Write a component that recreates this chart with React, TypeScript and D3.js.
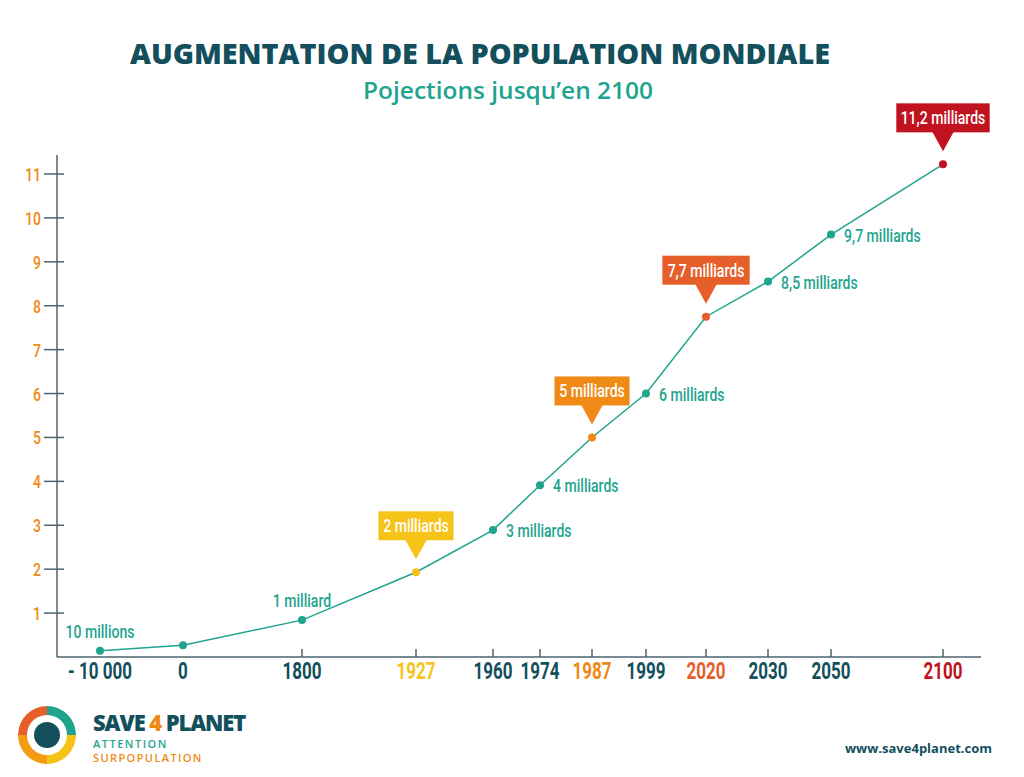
import * as d3 from "d3";
import type { ReactNode } from "react";

// data
const YEARS = ["- 10 000", "0", "1800", "1927", "1960", "1974", "1987", "1999", "2020", "2030", "2050", "2100"];
const POP = [0.14, 0.27, 0.84, 1.93, 2.89, 3.91, 5.0, 6.0, 7.75, 8.55, 9.62, 11.22];
const LABELS = ["10 millions", "", "1 milliard", "2 milliards", "3 milliards", "4 milliards", "5 milliards", "6 milliards", "7,7 milliards", "8,5 milliards", "9,7 milliards", "11,2 milliards"];
// which points get a callout box and their colour
const CALLOUTS: Record<string, string> = { "1927": "#f6c319", "1987": "#ef8a17", "2020": "#e65f2b", "2100": "#c1121f" };
const Y_TICKS = [1, 2, 3, 4, 5, 6, 7, 8, 9, 10, 11];

// layout: the years are placed by hand on the axis (not to scale)
const X_SLOTS = [100, 183, 302, 416, 493, 540, 592, 646, 706, 768, 831, 943];

const TEAL = "#1fa48e";
const DARK = "#134f5c";
const AXIS = "#4b6470";
const ORANGE = "#ef8a17";
const COND = "Roboto, sans-serif";
const SANS = "'Open Sans', 'Lato', sans-serif";
const SQ = 0.74; // horizontal squeeze to fake a condensed face

const W = 1024, H = 777;

function CText({ x, y, anchor = "start", fill, size, weight = 500, children }: {
  x: number; y: number; anchor?: "start" | "middle" | "end"; fill: string; size: number; weight?: number; children: ReactNode;
}) {
  return (
    <g transform={`translate(${x},${y}) scale(${SQ},1)`}>
      <text textAnchor={anchor} fill={fill} fontSize={size} fontWeight={weight} fontFamily={COND}>{children}</text>
    </g>
  );
}

function Callout({ x, y, text, color }: { x: number; y: number; text: string; color: string }) {
  const w = text.length * 6.1 + 8, h = 29;
  const tipY = y - 13, boxBottom = tipY - 19;
  return (
    <g>
      <rect x={x - w / 2} y={boxBottom - h} width={w} height={h} fill={color} />
      <path d={`M${x - 11},${boxBottom - 1} L${x + 11},${boxBottom - 1} L${x},${tipY} Z`} fill={color} />
      <CText x={x} y={boxBottom - 8} anchor="middle" fill="#fff" size={19}>{text}</CText>
    </g>
  );
}

export default function App() {
  const x = d3.scaleOrdinal<string, number>().domain(YEARS).range(X_SLOTS);
  const y = d3.scaleLinear().domain([0, 11]).range([657, 174]);
  const line = d3.line<number>().x((_d, i) => x(YEARS[i])).y((d) => y(d));

  const ring = d3.arc();
  const segs = [
    { a0: 0, a1: Math.PI / 2, c: TEAL },
    { a0: Math.PI / 2, a1: Math.PI, c: "#f6c319" },
    { a0: Math.PI, a1: Math.PI * 1.5, c: "#f39c12" },
    { a0: Math.PI * 1.5, a1: Math.PI * 2, c: "#e65f2b" },
  ];

  return (
    <svg width={W} height={H} style={{ position: "absolute", left: 0, top: 0, background: "#fff" }}>
      <text x={480} y={64} textAnchor="middle" fill={DARK} fontSize={28} fontWeight={800} fontFamily={SANS} textLength={700} lengthAdjust="spacingAndGlyphs">AUGMENTATION DE LA POPULATION MONDIALE</text>
      <text x={508} y={99} textAnchor="middle" fill={TEAL} fontSize={24} fontWeight={600} fontFamily={SANS} textLength={290} lengthAdjust="spacingAndGlyphs">Pojections jusqu’en 2100</text>

      {/* axes */}
      <line x1={57} x2={57} y1={155} y2={657} stroke={AXIS} strokeWidth={1.5} />
      <line x1={57} x2={981} y1={657} y2={657} stroke={AXIS} strokeWidth={1.5} />
      {Y_TICKS.map((t) => (
        <g key={t}>
          <line x1={44} x2={64} y1={y(t)} y2={y(t)} stroke={AXIS} strokeWidth={1.5} />
          <CText x={41} y={y(t) + 7} anchor="end" fill={ORANGE} size={19}>{t}</CText>
        </g>
      ))}
      {YEARS.map((yr, i) => (
        <g key={yr}>
          {i >= 2 && <line x1={x(yr)} x2={x(yr)} y1={649} y2={657} stroke={AXIS} strokeWidth={1.5} />}
          <CText x={x(yr)} y={679} anchor="middle" fill={CALLOUTS[yr] ?? DARK} size={23} weight={700}>{yr}</CText>
        </g>
      ))}

      <path d={line(POP) ?? ""} fill="none" stroke={TEAL} strokeWidth={1.5} />
      {POP.map((v, i) => (
        <circle key={i} cx={x(YEARS[i])} cy={y(v)} r={4} fill={CALLOUTS[YEARS[i]] ?? TEAL} />
      ))}

      {/* point labels */}
      {POP.map((v, i) => {
        const yr = YEARS[i], lab = LABELS[i];
        if (!lab) return null;
        const px = x(yr), py = y(v);
        if (CALLOUTS[yr]) return <Callout key={i} x={px} y={py} text={lab} color={CALLOUTS[yr]} />;
        const above = i <= 2;
        return (
          <CText key={i} x={above ? px : px + 13} y={above ? py - 13 : py + 7} anchor={above ? "middle" : "start"} fill={TEAL} size={19}>{lab}</CText>
        );
      })}

      {/* logo */}
      <g transform="translate(47,735)">
        {segs.map((s, i) => (
          <path key={i} d={ring({ innerRadius: 20, outerRadius: 29, startAngle: s.a0, endAngle: s.a1 }) ?? ""} fill={s.c} />
        ))}
        <circle r={13} fill={DARK} />
      </g>
      <text x={93} y={731} fill={DARK} fontSize={22} fontWeight={800} fontFamily={SANS} letterSpacing={-1.1}>SAVE<tspan fill={ORANGE}> 4 </tspan>PLANET</text>
      <text x={93} y={748} fill={TEAL} fontSize={11} fontWeight={600} fontFamily={SANS} letterSpacing={1.5}>ATTENTION</text>
      <text x={93} y={762} fill={ORANGE} fontSize={11} fontWeight={600} fontFamily={SANS} letterSpacing={1.4}>SURPOPULATION</text>
      <text x={992} y={753} textAnchor="end" fill={DARK} fontSize={13} fontWeight={700} fontFamily={SANS}>www.save4planet.com</text>
    </svg>
  );
}
